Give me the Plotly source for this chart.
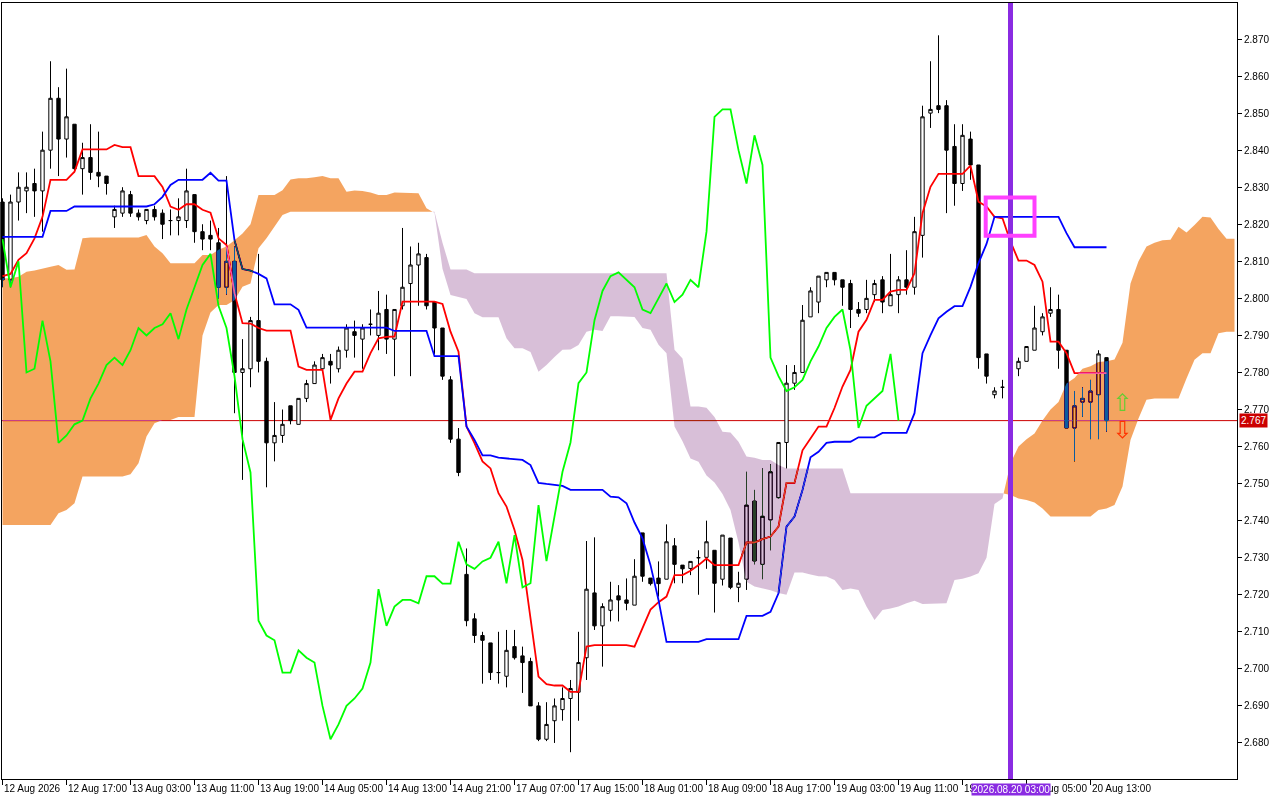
import plotly.graph_objects as go

# H1 candles, bar 0 = 12 Aug 2026 09:00 (22 bars per trading day)
opens = [
    2.826, 2.805, 2.826, 2.829, 2.831, 2.829, 2.840, 2.854, 2.843, 2.847,
    2.835, 2.838, 2.834, 2.833, 2.822, 2.823, 2.828, 2.823, 2.821, 2.824,
    2.823, 2.821, 2.821, 2.821, 2.828, 2.818, 2.817, 2.815, 2.803, 2.810,
    2.780, 2.781, 2.794, 2.783, 2.761, 2.763, 2.771, 2.766, 2.773, 2.777,
    2.781, 2.783, 2.781, 2.786, 2.791, 2.789, 2.793, 2.790, 2.797, 2.789,
    2.798, 2.804, 2.809, 2.811, 2.799, 2.792, 2.778, 2.762, 2.7255, 2.7135,
    2.709, 2.707, 2.699, 2.698, 2.706, 2.7035, 2.702, 2.690, 2.681, 2.686,
    2.689, 2.692, 2.6937, 2.703, 2.7205, 2.7116, 2.7158, 2.7197, 2.7186, 2.7172,
    2.7367, 2.7245, 2.7245, 2.7242, 2.7332, 2.728, 2.7271, 2.730, 2.7301, 2.732,
    2.7242, 2.7353, 2.722, 2.7242, 2.7453, 2.7282, 2.7402, 2.7462, 2.7611, 2.7771,
    2.780, 2.795, 2.799, 2.805, 2.807, 2.805, 2.804, 2.797, 2.797, 2.801,
    2.805, 2.798, 2.801, 2.805, 2.803, 2.817, 2.850, 2.852, 2.852, 2.841,
    2.831, 2.843, 2.836, 2.785, 2.774, 2.776, 2.776, 2.781, 2.783, 2.786,
    2.791, 2.796, 2.797, 2.786, 2.765, 2.772, 2.772, 2.774, 2.784,
]
highs = [
    2.827, 2.828, 2.834, 2.834, 2.835, 2.845, 2.864, 2.857, 2.862, 2.847,
    2.842, 2.847, 2.845, 2.833, 2.825, 2.830, 2.829, 2.824, 2.824, 2.825,
    2.824, 2.824, 2.827, 2.835, 2.828, 2.820, 2.821, 2.819, 2.833, 2.814,
    2.789, 2.795, 2.812, 2.784, 2.772, 2.770, 2.771, 2.773, 2.778, 2.783,
    2.785, 2.785, 2.787, 2.793, 2.794, 2.793, 2.797, 2.802, 2.801, 2.797,
    2.819, 2.814, 2.815, 2.812, 2.799, 2.792, 2.779, 2.765, 2.7325, 2.715,
    2.710, 2.707, 2.710, 2.7105, 2.7105, 2.706, 2.703, 2.691, 2.691, 2.692,
    2.695, 2.697, 2.710, 2.7345, 2.7355, 2.7177, 2.7235, 2.7226, 2.7244, 2.7296,
    2.7367, 2.7245, 2.729, 2.739, 2.7353, 2.728, 2.729, 2.732, 2.740, 2.732,
    2.7361, 2.7353, 2.7262, 2.7532, 2.7483, 2.7541, 2.7552, 2.7611, 2.782, 2.782,
    2.7982, 2.803, 2.806, 2.807, 2.807, 2.805, 2.805, 2.799, 2.805, 2.805,
    2.806, 2.812, 2.806, 2.813, 2.822, 2.852, 2.864, 2.871, 2.8535, 2.847,
    2.847, 2.845, 2.836, 2.785, 2.776, 2.778, 2.780, 2.784, 2.787, 2.798,
    2.796, 2.803, 2.801, 2.786, 2.775, 2.776, 2.778, 2.786, 2.784,
]
lows = [
    2.803, 2.803, 2.821, 2.823, 2.822, 2.818, 2.835, 2.833, 2.838, 2.834,
    2.828, 2.832, 2.830, 2.828, 2.819, 2.822, 2.822, 2.821, 2.820, 2.821,
    2.816, 2.817, 2.817, 2.819, 2.815, 2.813, 2.813, 2.800, 2.801, 2.769,
    2.751, 2.776, 2.780, 2.749, 2.756, 2.761, 2.766, 2.766, 2.772, 2.777,
    2.780, 2.777, 2.780, 2.784, 2.784, 2.781, 2.790, 2.786, 2.785, 2.779,
    2.797, 2.779, 2.798, 2.797, 2.785, 2.778, 2.761, 2.752, 2.7115, 2.707,
    2.696, 2.697, 2.696, 2.695, 2.7025, 2.6935, 2.690, 2.6805, 2.6805, 2.680,
    2.686, 2.6775, 2.686, 2.697, 2.7105, 2.7006, 2.7128, 2.7128, 2.7158, 2.7172,
    2.7235, 2.7225, 2.7195, 2.7242, 2.7231, 2.7231, 2.7253, 2.720, 2.727, 2.7152,
    2.7225, 2.7215, 2.718, 2.7213, 2.7282, 2.7242, 2.732, 2.746, 2.7541, 2.7753,
    2.780, 2.795, 2.796, 2.803, 2.8035, 2.798, 2.792, 2.795, 2.796, 2.799,
    2.796, 2.798, 2.796, 2.801, 2.801, 2.811, 2.846, 2.850, 2.823, 2.825,
    2.829, 2.832, 2.781, 2.777, 2.773, 2.773, 2.774, 2.779, 2.783, 2.786,
    2.790, 2.795, 2.781, 2.765, 2.756, 2.768, 2.762, 2.762, 2.764,
]
closes = [
    2.805, 2.826, 2.830, 2.830, 2.829, 2.840, 2.854, 2.843, 2.849, 2.835,
    2.838, 2.834, 2.833, 2.831, 2.824, 2.829, 2.823, 2.822, 2.824, 2.822,
    2.820, 2.821, 2.822, 2.829, 2.818, 2.816, 2.816, 2.803, 2.810, 2.780,
    2.781, 2.794, 2.783, 2.761, 2.763, 2.766, 2.767, 2.773, 2.777, 2.782,
    2.784, 2.782, 2.786, 2.792, 2.790, 2.792, 2.793, 2.796, 2.789, 2.797,
    2.803, 2.809, 2.812, 2.798, 2.792, 2.779, 2.762, 2.753, 2.713, 2.709,
    2.7077, 2.699, 2.699, 2.705, 2.703, 2.7017, 2.690, 2.681, 2.685, 2.690,
    2.692, 2.6947, 2.7017, 2.7215, 2.7116, 2.7168, 2.7186, 2.7186, 2.7177, 2.725,
    2.725, 2.723, 2.723, 2.7343, 2.7282, 2.727, 2.729, 2.730, 2.7343, 2.7231,
    2.7361, 2.722, 2.7231, 2.7442, 2.7291, 2.7412, 2.7532, 2.7611, 2.7771, 2.780,
    2.7941, 2.802, 2.806, 2.807, 2.805, 2.803, 2.797, 2.796, 2.800, 2.804,
    2.799, 2.801, 2.805, 2.803, 2.818, 2.849, 2.851, 2.851, 2.840, 2.831,
    2.844, 2.836, 2.784, 2.779, 2.775, 2.776, 2.778, 2.783, 2.787, 2.792,
    2.795, 2.797, 2.786, 2.765, 2.771, 2.773, 2.775, 2.785, 2.767,
]

# Ichimoku lines
tenkan = [
    2.806, 2.8066, 2.8104, 2.8122, 2.8162, 2.822, 2.832, 2.832, 2.832, 2.8342,
    2.8402, 2.8402, 2.8402, 2.8402, 2.8414, 2.8408, 2.8408, 2.833, 2.833, 2.833,
    2.8301, 2.8248, 2.8239, 2.8254, 2.8254, 2.8239, 2.8231, 2.8162, 2.8144, 2.8014,
    2.7933, 2.7932, 2.792, 2.7913, 2.7913, 2.7913, 2.7913, 2.7816, 2.7807, 2.7807,
    2.7807, 2.7672, 2.773, 2.777, 2.7802, 2.7802, 2.7852, 2.7892, 2.7896, 2.7897,
    2.7991, 2.7991, 2.7991, 2.7991, 2.7991, 2.7985, 2.791, 2.7856, 2.7654, 2.7609,
    2.756, 2.7541, 2.7474, 2.7438, 2.7375, 2.7294, 2.7132, 2.6979, 2.6959, 2.6955,
    2.6955, 2.6938, 2.6938, 2.706, 2.7064, 2.7064, 2.7064, 2.7064, 2.7064, 2.706,
    2.711, 2.716, 2.718, 2.7195, 2.7253, 2.7253, 2.7265, 2.728, 2.7298, 2.728,
    2.728, 2.728, 2.728, 2.7341, 2.7341, 2.735, 2.7357, 2.7384, 2.7502, 2.7502,
    2.759, 2.7622, 2.7654, 2.7654, 2.7704, 2.7762, 2.7807, 2.791, 2.7942, 2.7996,
    2.7996, 2.8018, 2.8023, 2.8023, 2.8068, 2.823, 2.8301, 2.8336, 2.8336, 2.8336,
    2.8336, 2.8358, 2.8261, 2.8248, 2.822, 2.8216, 2.8153, 2.8102, 2.8102, 2.809,
    2.8045, 2.7883, 2.7883, 2.7852, 2.7798, 2.7798, 2.7798, 2.7798, 2.7798,
]
kijun = [
    2.8166, 2.8166, 2.8166, 2.8166, 2.8166, 2.8166, 2.8236, 2.8236, 2.8236, 2.8248,
    2.8248, 2.8248, 2.8248, 2.8248, 2.8248, 2.8248, 2.8248, 2.8248, 2.8248, 2.8254,
    2.8274, 2.8306, 2.832, 2.832, 2.832, 2.832, 2.8339, 2.8318, 2.8318, 2.8157,
    2.8079, 2.8075, 2.8066, 2.8054, 2.7984, 2.7984, 2.7984, 2.7969, 2.7921, 2.7921,
    2.7921, 2.7921, 2.7921, 2.7921, 2.7921, 2.7921, 2.7921, 2.7921, 2.7921, 2.7912,
    2.7912, 2.7912, 2.7912, 2.7912, 2.7844, 2.7844, 2.7844, 2.7844, 2.7654, 2.7618,
    2.7576, 2.7576, 2.757, 2.7568, 2.7568, 2.7564, 2.755, 2.7502, 2.7499, 2.7496,
    2.7494, 2.7483, 2.7483, 2.7483, 2.7483, 2.7483, 2.7465, 2.7463, 2.7447, 2.7395,
    2.7352, 2.728, 2.7186, 2.7073, 2.7073, 2.7073, 2.7073, 2.7073, 2.708, 2.708,
    2.708, 2.708, 2.708, 2.7143, 2.7143, 2.7143, 2.7154, 2.7204, 2.7384, 2.7411,
    2.7483, 2.7571, 2.7586, 2.761, 2.7613, 2.7613, 2.7613, 2.7625, 2.7625, 2.7625,
    2.7637, 2.7637, 2.7637, 2.7637, 2.769, 2.7852, 2.7901, 2.7946, 2.7964, 2.7979,
    2.7979, 2.8031, 2.8095, 2.8147, 2.822, 2.822, 2.822, 2.822, 2.822, 2.822,
    2.822, 2.822, 2.822, 2.8176, 2.8138, 2.8138, 2.8138, 2.8138, 2.8138,
]
# cloud spans, shifted 26 bars ahead (run past the last candle)
span_a = [
    2.8054, 2.8054, 2.8058, 2.8072, 2.8075, 2.8081, 2.8085, 2.8090, 2.8077, 2.8078,
    2.8162, 2.8164, 2.8164, 2.8164, 2.8164, 2.8164, 2.8164, 2.8164, 2.8171, 2.8140,
    2.8122, 2.8095, 2.8095, 2.8095, 2.8095, 2.8117, 2.8117, 2.8131, 2.8140, 2.8157,
    2.8175, 2.8200, 2.8279, 2.8279, 2.8279, 2.8292, 2.8321, 2.8324, 2.8324, 2.8327,
    2.8330, 2.8324, 2.8324, 2.8288, 2.8291, 2.8290, 2.8286, 2.8279, 2.8279, 2.8286,
    2.8286, 2.8286, 2.8284, 2.8243, 2.8231, 2.8080, 2.8009, 2.8004, 2.7998, 2.7960,
    2.7949, 2.7949, 2.7949, 2.7892, 2.7865, 2.7865, 2.7855, 2.7802, 2.7820, 2.7842,
    2.7861, 2.7862, 2.7874, 2.7910, 2.7915, 2.7912, 2.7952, 2.7952, 2.7952, 2.7950,
    2.7920, 2.7915, 2.7875, 2.7852, 2.7654, 2.7614, 2.7568, 2.7559, 2.7522, 2.7503,
    2.7472, 2.7429, 2.7341, 2.7235, 2.7222, 2.7218, 2.7212, 2.7205, 2.7200, 2.7260,
    2.7260, 2.7255, 2.7250, 2.7249, 2.7240, 2.7213, 2.7217, 2.7213, 2.7168, 2.7132,
    2.7159, 2.7163, 2.7168, 2.7177, 2.7184, 2.7175, 2.7175, 2.7175, 2.7177, 2.7240,
    2.7243, 2.7249, 2.7258, 2.7300, 2.7445, 2.7460, 2.7555, 2.7600, 2.7620, 2.7635,
    2.7670, 2.7700, 2.7720, 2.7770, 2.7785, 2.7810, 2.7817, 2.7828, 2.7830, 2.7835,
    2.7880, 2.8040, 2.8100, 2.8140, 2.8150, 2.8157, 2.8158, 2.8193, 2.8178, 2.8198,
    2.8220, 2.8218, 2.8187, 2.8161, 2.8161,
]
span_b = [
    2.7388, 2.7388, 2.7388, 2.7388, 2.7388, 2.7388, 2.7388, 2.7420, 2.7429, 2.7447,
    2.7519, 2.7519, 2.7519, 2.7519, 2.7519, 2.7519, 2.7525, 2.7555, 2.7627, 2.7663,
    2.7672, 2.7672, 2.7680, 2.7680, 2.7680, 2.7900, 2.7962, 2.7982, 2.7982, 2.7995,
    2.8031, 2.8040, 2.8135, 2.8162, 2.8193, 2.8225, 2.8234, 2.8234, 2.8234, 2.8234,
    2.8234, 2.8234, 2.8234, 2.8234, 2.8234, 2.8234, 2.8234, 2.8234, 2.8234, 2.8234,
    2.8234, 2.8234, 2.8234, 2.8234, 2.8234, 2.8150, 2.8078, 2.8078, 2.8078, 2.8068,
    2.8068, 2.8068, 2.8068, 2.8068, 2.8068, 2.8068, 2.8068, 2.8068, 2.8068, 2.8068,
    2.8068, 2.8068, 2.8068, 2.8068, 2.8068, 2.8068, 2.8068, 2.8068, 2.8068, 2.8068,
    2.8068, 2.8068, 2.8068, 2.8068, 2.7861, 2.7838, 2.7708, 2.7708, 2.7705, 2.7680,
    2.7640, 2.7638, 2.7613, 2.7573, 2.7570, 2.7564, 2.7564, 2.7550, 2.7541, 2.7541,
    2.7541, 2.7541, 2.7541, 2.7541, 2.7541, 2.7541, 2.7474, 2.7474, 2.7474, 2.7474,
    2.7474, 2.7474, 2.7474, 2.7474, 2.7474, 2.7474, 2.7474, 2.7474, 2.7474, 2.7474,
    2.7474, 2.7474, 2.7474, 2.7474, 2.7474, 2.7474, 2.7469, 2.7460, 2.7456, 2.7449,
    2.7433, 2.7411, 2.7411, 2.7411, 2.7411, 2.7411, 2.7411, 2.7429, 2.7433, 2.7442,
    2.7492, 2.7618, 2.7676, 2.7726, 2.7730, 2.7730, 2.7730, 2.7730, 2.7784, 2.7834,
    2.7852, 2.7852, 2.7906, 2.7910, 2.7910,
]

tick_bars = [0, 8, 16, 24, 32, 40, 48, 56, 64, 72, 80, 88, 96, 104, 112, 120, 128, 136]
tick_labels = [
    "12 Aug 2026", "12 Aug 17:00", "13 Aug 03:00", "13 Aug 11:00", "13 Aug 19:00",
    "14 Aug 05:00", "14 Aug 13:00", "14 Aug 21:00", "17 Aug 07:00", "17 Aug 15:00",
    "18 Aug 01:00", "18 Aug 09:00", "18 Aug 17:00", "19 Aug 03:00", "19 Aug 11:00",
    "19 Aug 19:00", "20 Aug 05:00", "20 Aug 13:00",
]

bid = 2.767
cursor_bar = 126
cursor_label = "2026.08.20 03:00"
box_bars = [122.9, 129.0]
box_prices = [2.8169, 2.8272]
signal_bar = 140
signal_up = 2.7712
signal_down = 2.7640
chikou_shift = 26

bars = list(range(len(closes)))
cloud_bars = list(range(len(span_a)))

# MT4 paints the kumo in XOR mode; reproduce with a "difference" blend of the
# inverted colours (sandybrown -> 11,91,159 ; thistle -> 39,64,39)
BULL_FILL = "rgb(11,91,159)"
BEAR_FILL = "rgb(39,64,39)"
BID_RED = "#CC0000"


def cloud_polys(xs, a, b):
    """split the band between a and b into polygons by which span is on top"""
    up, down = [], []
    px, pa, pb = [xs[0]], [a[0]], [b[0]]
    sign = a[0] >= b[0]
    for i in range(1, len(xs)):
        s = a[i] >= b[i]
        if s != sign:
            d0, d1 = a[i - 1] - b[i - 1], a[i] - b[i]
            t = d0 / (d0 - d1)
            xc = xs[i - 1] + t * (xs[i] - xs[i - 1])
            yc = a[i - 1] + t * (a[i] - a[i - 1])
            px.append(xc); pa.append(yc); pb.append(yc)
            (up if sign else down).append((px, pa, pb))
            px, pa, pb = [xc], [yc], [yc]
            sign = s
        px.append(xs[i]); pa.append(a[i]); pb.append(b[i])
    (up if sign else down).append((px, pa, pb))

    def join(polys):
        x, y = [], []
        for px, pa, pb in polys:
            x += px + px[::-1] + [None]
            y += pa + pb[::-1] + [None]
        return x, y
    return join(up), join(down)


fig = go.Figure()

fig.add_trace(go.Candlestick(
    x=bars, open=opens, high=highs, low=lows, close=closes,
    increasing=dict(line=dict(color="black", width=1), fillcolor="white"),
    decreasing=dict(line=dict(color="black", width=1), fillcolor="black"),
    hoverinfo="skip"))

fig.add_trace(go.Scatter(x=bars, y=tenkan, mode="lines",
                         line=dict(color="#FF0000", width=1.8), hoverinfo="skip"))
fig.add_trace(go.Scatter(x=bars, y=kijun, mode="lines",
                         line=dict(color="#0000FF", width=1.8), hoverinfo="skip"))

(bx, by), (sx, sy) = cloud_polys(cloud_bars, span_a, span_b)
fig.add_trace(go.Scatter(x=bx, y=by, mode="lines", fill="toself", fillcolor=BULL_FILL,
                         line=dict(width=0), hoverinfo="skip"))
fig.add_trace(go.Scatter(x=sx, y=sy, mode="lines", fill="toself", fillcolor=BEAR_FILL,
                         line=dict(width=0), hoverinfo="skip"))

# chikou span = close drawn 26 bars back
fig.add_trace(go.Scatter(x=[b - chikou_shift for b in bars[chikou_shift:]],
                         y=closes[chikou_shift:], mode="lines",
                         line=dict(color="#00FF00", width=1.8), hoverinfo="skip"))

fig.add_trace(go.Scatter(x=[signal_bar], y=[signal_up], mode="text", text=["\u21e7"],
                         textfont=dict(family="DejaVu Sans", size=24, color="#66CC33"),
                         hoverinfo="skip"))
fig.add_trace(go.Scatter(x=[signal_bar], y=[signal_down], mode="text", text=["\u21e9"],
                         textfont=dict(family="DejaVu Sans", size=24, color="#FF3300"),
                         hoverinfo="skip"))

fig.add_shape(type="line", xref="paper", x0=0, x1=1, y0=bid, y1=bid,
              line=dict(color=BID_RED, width=1), layer="below")
fig.add_shape(type="line", x0=cursor_bar, x1=cursor_bar, yref="paper", y0=0, y1=1,
              line=dict(color="#8A2BE2", width=5), layer="above")
fig.add_shape(type="rect", x0=box_bars[0], x1=box_bars[1], y0=box_prices[0], y1=box_prices[1],
              line=dict(color="#FF40FF", width=4), layer="above")

for b, t in zip(tick_bars, tick_labels):
    fig.add_annotation(x=b, y=0, xref="x", yref="paper", text=t, showarrow=False,
                       xanchor="left", yanchor="top", yshift=-2, xshift=-1,
                       font=dict(size=10, color="black"))
fig.add_annotation(x=cursor_bar, y=0, xref="x", yref="paper", text=cursor_label,
                   showarrow=False, xanchor="center", yanchor="top", yshift=-4,
                   bgcolor="#8A2BE2", borderpad=0, font=dict(size=10, color="white"))
fig.add_annotation(x=1, y=bid, xref="paper", yref="y", text=f"{bid:.3f}", showarrow=False,
                   xanchor="left", yanchor="middle", xshift=2, bgcolor=BID_RED,
                   borderpad=1, font=dict(size=10, color="white"))

fig.update_layout(
    width=1280, height=800,
    margin=dict(l=2, r=43, t=3, b=21),
    paper_bgcolor="white", plot_bgcolor="white",
    showlegend=False, hovermode=False, boxgap=0.4,
    font=dict(family="Liberation Sans", size=10, color="black"),
)
fig.update_xaxes(range=[-0.0625, 154.3125], showgrid=False, zeroline=False,
                 showline=True, linecolor="black", linewidth=1, mirror=True,
                 ticks="outside", ticklen=5, tickcolor="black", tickvals=tick_bars,
                 showticklabels=False, rangeslider_visible=False)
fig.update_yaxes(range=[2.67027, 2.87972], side="right", showgrid=False, zeroline=False,
                 showline=True, linecolor="black", linewidth=1, mirror=True,
                 ticks="outside", ticklen=4, tickcolor="black", tick0=2.67, dtick=0.01,
                 tickformat=".3f", tickfont=dict(size=10, color="black"))

# blending needs a non-isolated backdrop: drop the clip paths of the plot area
post = ("var s=document.createElement('style');"
        "s.textContent='.js-fill{mix-blend-mode:difference;}"
        " .cartesianlayer g,.cartesianlayer path{clip-path:none !important;isolation:auto !important;}"
        " body{margin:0;overflow:hidden;}';"
        "document.head.appendChild(s);")
fig.write_html("out.html", post_script=post, config={"displayModeBar": False})
